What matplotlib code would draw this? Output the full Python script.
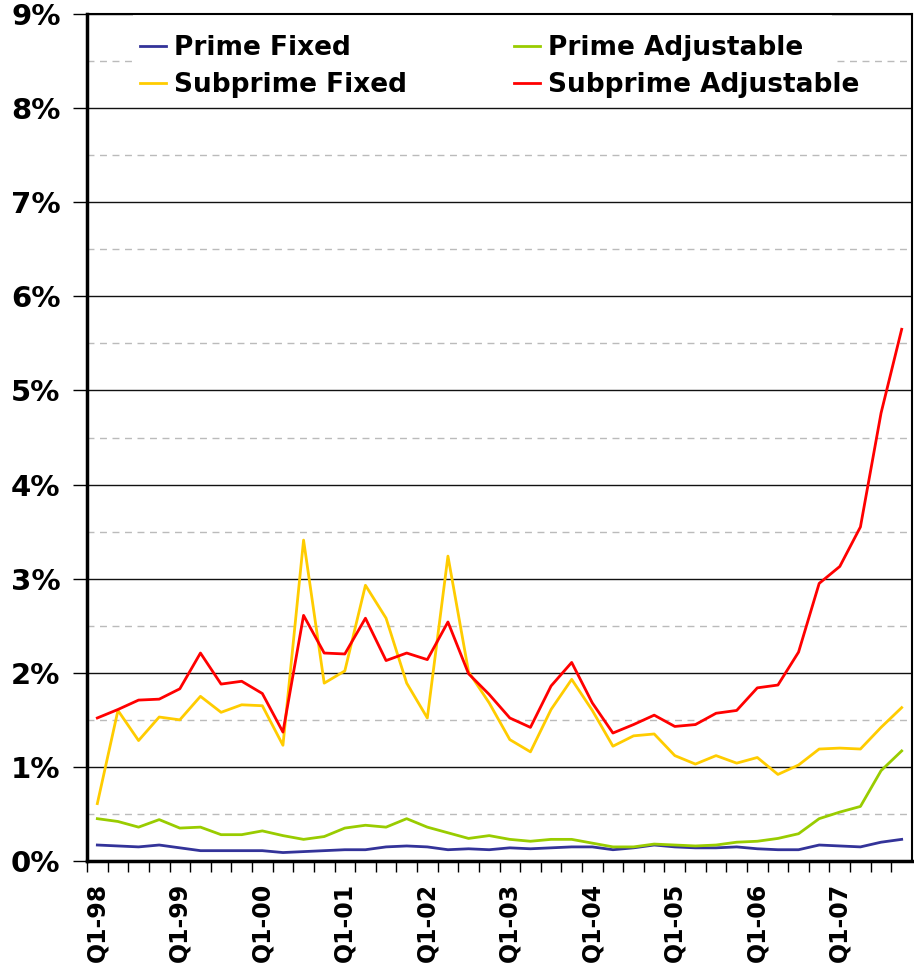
import matplotlib.pyplot as plt
import numpy as np
from matplotlib.patches import Rectangle
from matplotlib.ticker import FuncFormatter, MultipleLocator

# 季度标签，从 Q1-98 到 Q4-07
years = ["98", "99", "00", "01", "02", "03", "04", "05", "06", "07"]
quarters = [f"Q{q}-{y}" for y in years for q in range(1, 5)]
year_labels = [f"Q1-{y}" for y in years]

# 各类贷款的数值（%）
prime_fixed = [0.17, 0.16, 0.15, 0.17, 0.14, 0.11, 0.11, 0.11, 0.11, 0.09,
               0.10, 0.11, 0.12, 0.12, 0.15, 0.16, 0.15, 0.12, 0.13, 0.12,
               0.14, 0.13, 0.14, 0.15, 0.15, 0.12, 0.14, 0.17, 0.15, 0.14,
               0.14, 0.15, 0.13, 0.12, 0.12, 0.17, 0.16, 0.15, 0.20, 0.23]
prime_adj = [0.45, 0.42, 0.36, 0.44, 0.35, 0.36, 0.28, 0.28, 0.32, 0.27,
             0.23, 0.26, 0.35, 0.38, 0.36, 0.45, 0.36, 0.30, 0.24, 0.27,
             0.23, 0.21, 0.23, 0.23, 0.19, 0.15, 0.15, 0.18, 0.17, 0.16,
             0.17, 0.20, 0.21, 0.24, 0.29, 0.45, 0.52, 0.58, 0.96, 1.17]
subprime_fixed = [0.61, 1.60, 1.28, 1.53, 1.50, 1.75, 1.58, 1.66, 1.65, 1.23,
                  3.41, 1.89, 2.02, 2.93, 2.58, 1.89, 1.52, 3.24, 2.01, 1.68,
                  1.29, 1.16, 1.61, 1.93, 1.60, 1.22, 1.33, 1.35, 1.12, 1.03,
                  1.12, 1.04, 1.10, 0.92, 1.02, 1.19, 1.20, 1.19, 1.42, 1.63]
subprime_adj = [1.52, 1.61, 1.71, 1.72, 1.83, 2.21, 1.88, 1.91, 1.78, 1.37,
                2.61, 2.21, 2.20, 2.58, 2.13, 2.21, 2.14, 2.54, 1.99, 1.77,
                1.52, 1.42, 1.86, 2.11, 1.68, 1.36, 1.45, 1.55, 1.43, 1.45,
                1.57, 1.60, 1.84, 1.87, 2.22, 2.95, 3.13, 3.55, 4.76, 5.65]

series = [("Prime Fixed", prime_fixed, "#333399"),
          ("Prime Adjustable", prime_adj, "#99CC00"),
          ("Subprime Fixed", subprime_fixed, "#FFCC00"),
          ("Subprime Adjustable", subprime_adj, "#FF0000")]

fig = plt.figure(figsize=(9.14, 9.74), dpi=100)
ax = fig.add_axes([0.0952, 0.116, 0.9026, 0.8696])

x = np.arange(len(quarters))
for name, vals, col in series:
    ax.plot(x, vals, color=col, lw=2.0, label=name)

ax.set_xlim(-0.5, len(quarters) - 0.5)
ax.set_ylim(0, 9)

# y 轴：主网格实线，次网格虚线
ax.yaxis.set_major_locator(MultipleLocator(1))
ax.yaxis.set_minor_locator(MultipleLocator(0.5))
ax.yaxis.set_major_formatter(FuncFormatter(lambda v, p: f"{v:.0f}%"))
ax.grid(axis="y", which="major", color="#111111", lw=1.0)
ax.grid(axis="y", which="minor", color="#bbbbbb", lw=1.0, ls=(0, (5, 4)))
ax.set_axisbelow(True)
ax.tick_params(axis="y", which="major", length=10, width=1, labelsize=21, pad=9)
ax.tick_params(axis="y", which="minor", length=0)
for t in ax.get_yticklabels():
    t.set_fontweight("bold")

# x 轴：每年 Q1 标签，季度分隔刻度
ax.set_xticks(x[::4])
ax.set_xticklabels(year_labels, rotation=90, fontsize=17, fontweight="bold")
ax.set_xticks(x - 0.5, minor=True)
ax.tick_params(axis="x", which="major", length=0, pad=16)
ax.tick_params(axis="x", which="minor", length=8, width=1)

for side in ["left", "bottom"]:
    ax.spines[side].set_linewidth(2.5)
for side in ["top", "right"]:
    ax.spines[side].set_linewidth(1.5)

# 图例背后的白底，遮住 8.5% 的虚线
ax.add_patch(Rectangle((0.056, 0.893), 0.847, 0.107, transform=ax.transAxes,
                       facecolor="white", edgecolor="none", zorder=1))

handles, labels = ax.get_legend_handles_labels()
order = [0, 2, 1, 3]
leg = ax.legend([handles[i] for i in order], [labels[i] for i in order],
                ncol=2, loc="upper left", bbox_to_anchor=(0.064, 0.975),
                frameon=False, handlelength=1.0, handletextpad=0.3,
                columnspacing=4.05, labelspacing=0.42, borderpad=0,
                borderaxespad=0, prop={"weight": "bold", "size": 19})

fig.savefig("out.png", dpi=100)
